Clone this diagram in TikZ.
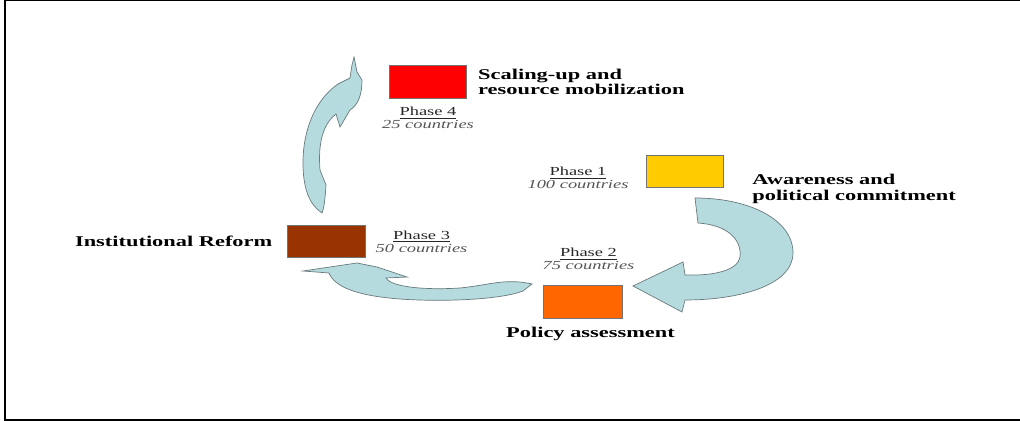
\documentclass[tikz,border=0pt]{standalone}
\usepackage{fontspec}
\setmainfont{Liberation Serif}
\usepackage{graphicx}
\usepackage{xcolor}
\usetikzlibrary{
    positioning
}
\definecolor{arrowblue}{RGB}{182,219,223}
\definecolor{arrowedge}{RGB}{105,122,124}
\definecolor{phasered}{RGB}{255,0,0}
\definecolor{phaseyellow}{RGB}{255,204,0}
\definecolor{phaseorange}{RGB}{255,102,0}
\definecolor{phasebrown}{RGB}{153,51,0}
\definecolor{countgrey}{RGB}{85,85,85}
\newcommand{\wide}[1]{\scalebox{1.5}[1]{#1}}
\newcommand{\phaselabel}[2]{\underline{\wide{Phase #1}}\\{\color{countgrey}\itshape\wide{#2 countries}}}
\tikzset{
    phasebox/.style = {rectangle, draw=black!55, line width=0.4pt,
      minimum width=1.54cm, minimum height=0.65cm, inner sep=0pt}
  }
\tikzset{
    steplabel/.style = {font=\fontsize{8.5}{9}\selectfont\bfseries,
      align=left, inner sep=0pt}
  }
\tikzset{
    phasetext/.style = {font=\fontsize{7}{7.5}\selectfont,
      align=center, inner sep=0pt, text=black!85}
  }
\tikzset{
    cyclearrow/.style = {fill=arrowblue, draw=arrowedge, line width=0.4pt}
  }
\begin{document}
\begin{tikzpicture}[x=0.02cm, y=-0.02cm]

\useasboundingbox (0,0) rectangle (1020,421);
\draw[line width=1.1pt] (1020,420) -- (5,420) -- (5,0) -- (1020,0);

\draw[cyclearrow]
  (695,198) -- (698,223)
  .. controls (728,225) and (742,240) .. (740,257)
  .. controls (738,270) and (715,276) .. (685,275)
  -- (683,262) -- (633,286) -- (682,312) -- (685,300)
  .. controls (740,300) and (793,285) .. (793,253)
  .. controls (793,220) and (750,198) .. (695,198) -- cycle;

\draw[cyclearrow]
  (303,271) -- (357,263) -- (377,267) -- (407,277) -- (386,278)
  .. controls (392,288) and (430,290) .. (460,288)
  .. controls (490,285) and (505,278) .. (532,284)
  -- (523,291)
  .. controls (500,300) and (440,302) .. (400,299)
  .. controls (360,296) and (335,288) .. (329,273) -- cycle;

\draw[cyclearrow]
  (322,213) .. controls (310,205) and (303,190) .. (303,163)
  .. controls (303,130) and (315,100) .. (338,84)
  -- (350,78) -- (352,65) -- (354,57) -- (357,72) -- (362,80)
  .. controls (362,95) and (358,105) .. (350,110)
  -- (340,127) -- (336,114)
  .. controls (322,125) and (318,145) .. (320,170)
  -- (326,185) .. controls (325,200) and (324,208) .. (322,213) -- cycle;

\node[phasebox, fill=phasered] at (428,82) (red) {};

\node[phasebox, fill=phaseyellow] at (685,171.5) (yellow) {};

\node[phasebox, fill=phaseorange, minimum width=1.58cm]
  at (582.5,302) (orange) {};

\node[phasebox, fill=phasebrown, minimum width=1.56cm]
  at (326,241.5) (brown) {};

\node[steplabel, right=0.22cm of red]
  (scaling) {\wide{Scaling-up and}\\\wide{resource mobilization}};

\node[phasetext, below=0.16cm of red]
  (phase4) {\phaselabel{4}{25}};

\node[phasetext] at (578,178)
  (phase1) {\phaselabel{1}{100}};

\node[steplabel, anchor=west] at (752,189)
  (awareness) {\wide{Awareness and}\\\wide{political commitment}};

\node[phasetext, above=0.3cm of orange, xshift=0.12cm]
  (phase2) {\phaselabel{2}{75}};

\node[steplabel, below=0.17cm of orange, xshift=0.16cm]
  (policy) {\wide{Policy assessment}};

\node[steplabel, left=0.28cm of brown]
  (reform) {\wide{Institutional Reform}};

\node[phasetext, right=0.2cm of brown]
  (phase3) {\phaselabel{3}{50}};

\end{tikzpicture}
\end{document}
